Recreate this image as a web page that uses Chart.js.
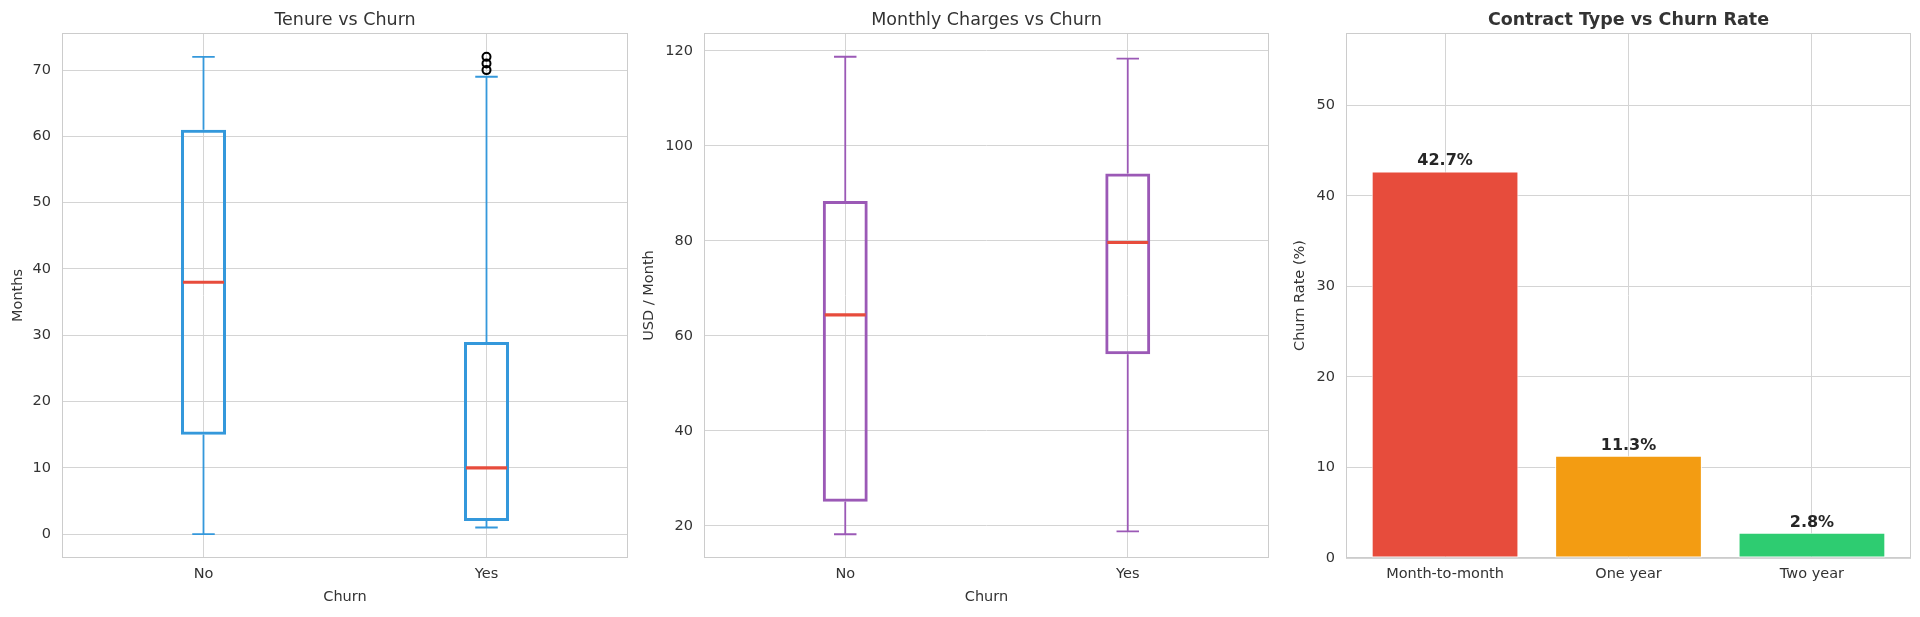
<!DOCTYPE html>
<html>
<head>
<meta charset="utf-8">
<script src="https://cdn.jsdelivr.net/npm/chart.js@4.4.1/dist/chart.umd.min.js"></script>
<style>
  html, body { margin: 0; padding: 0; background: #fff; }
  .panel { position: absolute; top: 0; width: 640px; height: 617px; }
</style>
</head>
<body>
<div class="panel" style="left:0"><canvas id="tenure" width="640" height="617"></canvas></div>
<div class="panel" style="left:640px"><canvas id="charges" width="640" height="617"></canvas></div>
<div class="panel" style="left:1280px"><canvas id="contract" width="640" height="617"></canvas></div>
<script>
// box plot groups
const churnGroups = ['No', 'Yes'];

// tenure (months) per churn group
const tenureLow = [0, 1];
const tenureQ1 = [15, 2];
const tenureMedian = [38, 10];
const tenureQ3 = [61, 29];
const tenureHigh = [72, 69];
const tenureOutliersYes = [70, 71, 72];
const tenureTicks = [0, 10, 20, 30, 40, 50, 60, 70];

// monthly charges (USD) per churn group
const chargesLow = [18.25, 18.85];
const chargesQ1 = [25.1, 56.15];
const chargesMedian = [64.43, 79.65];
const chargesQ3 = [88.4, 94.2];
const chargesHigh = [118.75, 118.35];
const chargesTicks = [20, 40, 60, 80, 100, 120];

// churn rate by contract
const contractTypes = ['Month-to-month', 'One year', 'Two year'];
const churnRates = [42.7, 11.3, 2.8];
const rateTicks = [0, 10, 20, 30, 40, 50];
const barColors = ['#e74c3c', '#f39c12', '#2ecc71'];

Chart.defaults.font.family = '"DejaVu Sans", sans-serif';
Chart.defaults.color = '#333';
Chart.defaults.animation = false;

const GRID = '#d4d4d4';

// light grey box around the plot area, like the seaborn spines
const framePlugin = {
    id: 'frame',
    beforeDatasetsDraw(chart) {
        const { ctx, chartArea: a } = chart;
        ctx.save();
        ctx.strokeStyle = '#cccccc';
        ctx.lineWidth = 1;
        ctx.strokeRect(a.left + 0.5, a.top + 0.5, a.right - a.left - 1, a.bottom - a.top - 1);
        ctx.restore();
    }
};

// title centred over the plot area (matplotlib style), not over the canvas
const axesTitlePlugin = {
    id: 'axesTitle',
    afterDraw(chart, args, opts) {
        const { ctx, chartArea: a } = chart;
        ctx.save();
        ctx.font = (opts.bold ? 'bold ' : '') + '17.5px "DejaVu Sans"';
        ctx.fillStyle = '#333';
        ctx.textAlign = 'center';
        ctx.textBaseline = 'alphabetic';
        ctx.fillText(opts.text, (a.left + a.right) / 2, 25);
        ctx.restore();
    }
};

// whiskers, caps and median drawn on top of the floating box bars
const whiskerPlugin = {
    id: 'whiskers',
    afterDatasetsDraw(chart, args, opts) {
        const { ctx, scales: { x, y } } = chart;
        const boxes = chart.getDatasetMeta(0).data;
        ctx.save();
        boxes.forEach((bar, i) => {
            const cx = x.getPixelForValue(i);
            const half = bar.width / 2;
            const yLow = y.getPixelForValue(opts.low[i]);
            const yHigh = y.getPixelForValue(opts.high[i]);
            ctx.strokeStyle = opts.color;
            ctx.lineWidth = 1.8;
            ctx.beginPath();
            ctx.moveTo(cx, yLow);
            ctx.lineTo(cx, y.getPixelForValue(opts.q1[i]));
            ctx.moveTo(cx, y.getPixelForValue(opts.q3[i]));
            ctx.lineTo(cx, yHigh);
            ctx.moveTo(cx - half / 2, yLow);
            ctx.lineTo(cx + half / 2, yLow);
            ctx.moveTo(cx - half / 2, yHigh);
            ctx.lineTo(cx + half / 2, yHigh);
            ctx.stroke();

            const yMed = y.getPixelForValue(opts.median[i]);
            ctx.strokeStyle = '#e74c3c';
            ctx.lineWidth = 3.2;
            ctx.beginPath();
            ctx.moveTo(cx - half + 2, yMed);
            ctx.lineTo(cx + half - 2, yMed);
            ctx.stroke();
        });
        ctx.restore();
    }
};

const barLabelPlugin = {
    id: 'barLabels',
    afterDatasetsDraw(chart) {
        const { ctx } = chart;
        ctx.save();
        ctx.font = 'bold 16px "DejaVu Sans"';
        ctx.fillStyle = '#262626';
        ctx.textAlign = 'center';
        ctx.textBaseline = 'alphabetic';
        chart.getDatasetMeta(0).data.forEach((bar, i) => {
            ctx.fillText(churnRates[i].toFixed(1) + '%', bar.x, bar.y - 6);
        });
        ctx.restore();
    }
};

function yAxis(min, max, ticks, label, width, titlePad) {
    return {
        min: min,
        max: max,
        afterBuildTicks: s => { s.ticks = ticks.map(v => ({ value: v })); },
        afterFit: s => { s.width = width; },
        grid: { color: GRID, drawTicks: false },
        border: { display: false },
        ticks: { padding: 11, font: { size: 14.5 }, color: '#333' },
        title: { display: true, text: label, font: { size: 14.5 }, color: '#333', padding: { top: titlePad, bottom: 0 } }
    };
}

function boxChart(id, title, color, stats, yMin, yMax, ticks, label, yWidth, titlePad, rightPad, outliers) {
    const datasets = [{
        type: 'bar',
        data: stats.q1.map((q, i) => [q, stats.q3[i]]),
        backgroundColor: 'rgba(0,0,0,0)',
        borderColor: color,
        borderWidth: 3,
        borderSkipped: false,
        barPercentage: 0.159,
        categoryPercentage: 1
    }];
    if (outliers) {
        datasets.push({
            type: 'line',
            data: outliers.values.map(v => ({ x: outliers.group, y: v })),
            showLine: false,
            pointRadius: 4,
            pointBorderWidth: 2,
            pointBorderColor: '#000',
            pointBackgroundColor: 'rgba(0,0,0,0)'
        });
    }
    return new Chart(document.getElementById(id), {
        type: 'bar',
        data: { labels: churnGroups, datasets: datasets },
        options: {
            responsive: false,
            layout: { padding: { left: 0, right: rightPad, top: 33, bottom: 0 } },
            plugins: {
                legend: { display: false },
                tooltip: { enabled: false },
                title: { display: false },
                axesTitle: { text: title, bold: false },
                whiskers: Object.assign({ color: color }, stats)
            },
            scales: {
                x: {
                    type: 'category',
                    offset: true,
                    afterFit: s => { s.height = 59; },
                    grid: { color: GRID, offset: false, drawTicks: false },
                    border: { display: false },
                    ticks: { padding: 8, font: { size: 14.5 }, color: '#333' },
                    title: { display: true, text: 'Churn', font: { size: 14.5 }, color: '#333', padding: { top: 0, bottom: 11 } }
                },
                y: yAxis(yMin, yMax, ticks, label, yWidth, titlePad)
            }
        },
        plugins: [framePlugin, whiskerPlugin, axesTitlePlugin]
    });
}

boxChart('tenure', 'Tenure vs Churn', '#3498db',
    { low: tenureLow, q1: tenureQ1, median: tenureMedian, q3: tenureQ3, high: tenureHigh },
    -3.6, 75.6, tenureTicks, 'Months', 62, 9.3, 12,
    { group: 'Yes', values: tenureOutliersYes });

boxChart('charges', 'Monthly Charges vs Churn', '#9b59b6',
    { low: chargesLow, q1: chargesQ1, median: chargesMedian, q3: chargesQ3, high: chargesHigh },
    13.25, 123.75, chargesTicks, 'USD / Month', 64, 0.3, 11, null);

new Chart(document.getElementById('contract'), {
    type: 'bar',
    data: {
        datasets: [{
            data: churnRates.map((v, i) => ({ x: i, y: v })),
            backgroundColor: barColors,
            borderColor: '#ffffff',
            borderWidth: 1,
            borderSkipped: false,
            barPercentage: 0.8,
            categoryPercentage: 1
        }]
    },
    options: {
        responsive: false,
        layout: { padding: { left: 0, right: 9, top: 33, bottom: 0 } },
        plugins: {
            legend: { display: false },
            tooltip: { enabled: false },
            title: { display: false },
            axesTitle: { text: 'Contract Type vs Churn Rate', bold: true }
        },
        scales: {
            x: {
                type: 'linear',
                min: -0.54,
                max: 2.54,
                offset: false,
                afterBuildTicks: s => { s.ticks = contractTypes.map((c, i) => ({ value: i })); },
                afterFit: s => { s.height = 59; },
                grid: { color: GRID, offset: false, drawTicks: false },
                border: { display: false },
                ticks: { padding: 8, font: { size: 14.5 }, color: '#333', callback: v => contractTypes[v] }
            },
            y: yAxis(0, 58, rateTicks, 'Churn Rate (%)', 66, 11.3)
        }
    },
    plugins: [framePlugin, barLabelPlugin, axesTitlePlugin]
});
</script>
</body>
</html>
